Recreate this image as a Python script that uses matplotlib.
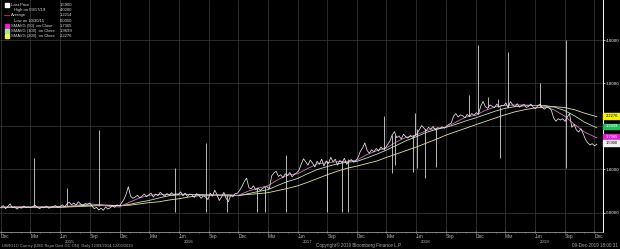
import matplotlib
matplotlib.use("Agg")
import matplotlib.pyplot as plt
import matplotlib.dates as mdates
import matplotlib.transforms as mtransforms
from matplotlib.patches import Rectangle
import pandas as pd

plt.rcParams["font.family"] = ["Liberation Sans", "DejaVu Sans"]

# weekly closes, one row per quarter (13 weeks from 2014-12-01)
price_vals = [
    0.12, 0.16, 0.09, 0.14, 0.20, 0.11, 0.13, 0.08, 0.12, 0.10, 0.15, 0.11, 0.13,
    0.11, 0.14, 0.17, 0.12, 0.09, 0.13, 0.11, 0.15, 0.10, 0.12, 0.14, 0.16, 0.12,
    0.14, 0.18, 0.13, 0.20, 0.24, 0.18, 0.22, 0.17, 0.25, 0.20, 0.16, 0.21, 0.19,
    0.22, 0.15, 0.09, 0.12, 0.06, 0.10, 0.05, 0.13, 0.08, 0.11, 0.16, 0.12, 0.18,
    0.15, 0.22, 0.30, 0.42, 0.60, 0.38, 0.33, 0.36, 0.40, 0.34, 0.38, 0.43, 0.37,
    0.41, 0.45, 0.36, 0.43, 0.39, 0.47, 0.42, 0.38, 0.44, 0.40, 0.46, 0.41, 0.43,
    0.42, 0.48, 0.39, 0.45, 0.37, 0.43, 0.41, 0.35, 0.44, 0.40, 0.33, 0.39, 0.36,
    0.30, 0.45, 0.38, 0.52, 0.41, 0.28, 0.36, 0.47, 0.33, 0.25, 0.40, 0.37, 0.44,
    0.45, 0.52, 0.61, 0.72, 0.80, 0.58, 0.55, 0.62, 0.53, 0.57, 0.51, 0.56, 0.59,
    0.60, 0.55, 0.85, 0.92, 0.96, 0.84, 0.88, 0.81, 0.90, 0.86, 0.93, 0.83, 0.89,
    0.92, 0.98, 1.12, 1.25, 1.18, 1.10, 1.22, 1.15, 1.06, 1.19, 1.12, 1.24, 1.08,
    1.20, 1.14, 1.28, 1.18, 1.24, 1.10, 1.21, 1.16, 1.26, 1.12, 1.19, 1.23, 1.17,
    1.20, 1.28, 1.42, 1.50, 1.62, 1.44, 1.38, 1.46, 1.41, 1.49, 1.43, 1.52, 1.47,
    1.50, 1.58, 1.66, 1.80, 1.88, 1.74, 1.78, 1.71, 1.82, 1.76, 1.73, 1.79, 1.75,
    1.78, 1.84, 1.93, 2.02, 1.96, 1.90, 1.98, 1.94, 2.00, 1.92, 1.97, 1.95, 1.99,
    1.96, 2.01, 2.05, 2.08, 2.24, 2.30, 2.22, 2.27, 2.25, 2.20, 2.28, 2.23, 2.30,
    2.26, 2.32, 2.29, 2.48, 2.58, 2.46, 2.42, 2.50, 2.47, 2.44, 2.52, 2.45, 2.49,
    2.48, 2.55, 2.43, 2.58, 2.50, 2.46, 2.53, 2.45, 2.49, 2.51, 2.44, 2.47, 2.52,
    2.45, 2.41, 2.48, 2.52, 2.44, 2.40, 2.46, 2.43, 2.38, 2.20, 2.12, 2.18, 2.15,
    2.18, 2.12, 2.22, 2.30, 1.98, 2.05, 1.92, 1.87, 1.95, 1.83, 1.70, 1.62, 1.57,
    1.60, 1.55, 1.59,
]
price_dates = pd.date_range("2014-12-01", periods=len(price_vals), freq="7D")

# one-day spikes (quarter ends etc.): date, low end, high end
needle_dates = [
    "2015-03-12", "2015-06-22", "2015-09-29", "2016-05-20", "2016-08-22",
    "2016-10-27", "2017-01-27", "2017-02-21", "2017-04-27", "2017-08-31",
    "2017-10-16", "2017-11-03", "2018-02-22", "2018-03-19", "2018-03-28",
    "2018-05-23", "2018-05-29", "2018-06-04", "2018-06-28", "2018-08-01",
    "2018-11-10", "2018-12-08", "2019-01-07", "2019-02-07", "2019-02-14",
    "2019-03-10", "2019-06-17", "2019-09-05",
]
needle_lo = [
    0.13, 0.15, 0.15, 0.02, 0.02, 0.02, 0.02, 0.02, 0.02, 0.02,
    0.02, 0.02, 1.45, 0.92, 1.10, 0.95, 1.80, 1.03, 0.80, 1.06,
    2.25, 2.30, 2.45, 2.45, 1.27, 2.45, 2.45, 1.03,
]
needle_hi = [
    1.27, 0.57, 1.92, 1.03, 1.62, 0.40, 0.58, 0.60, 1.34, 1.20,
    1.20, 1.25, 2.24, 1.80, 1.80, 1.80, 2.31, 1.95, 1.95, 1.97,
    2.73, 3.90, 2.68, 2.65, 2.45, 3.73, 3.00, 4.02,
]

# moving averages, month starts Dec 2014 .. Nov 2019 plus last day
sma_dates = list(pd.date_range("2014-12-01", periods=60, freq="MS")) + [pd.Timestamp("2019-12-09")]
sma50 = [
    0.12,
    0.13, 0.13, 0.12, 0.13, 0.13, 0.14, 0.15, 0.18, 0.20, 0.18, 0.14, 0.13,
    0.24, 0.34, 0.40, 0.42, 0.42, 0.43, 0.42, 0.40, 0.39, 0.40, 0.38, 0.40,
    0.50, 0.57, 0.62, 0.76, 0.87, 0.90, 1.02, 1.13, 1.16, 1.18, 1.19, 1.22,
    1.35, 1.44, 1.50, 1.64, 1.75, 1.80, 1.90, 1.96, 1.98, 2.10, 2.22, 2.26,
    2.38, 2.46, 2.49, 2.50, 2.50, 2.49, 2.47, 2.38, 2.24, 2.05, 1.87,
    1.7365,
]
sma100 = [
    0.12,
    0.13, 0.13, 0.13, 0.13, 0.13, 0.13, 0.14, 0.16, 0.17, 0.18, 0.17, 0.16,
    0.19, 0.24, 0.28, 0.34, 0.39, 0.41, 0.42, 0.42, 0.41, 0.40, 0.40, 0.39,
    0.44, 0.49, 0.53, 0.63, 0.72, 0.79, 0.90, 1.00, 1.07, 1.13, 1.17, 1.19,
    1.27, 1.36, 1.45, 1.56, 1.67, 1.76, 1.86, 1.93, 1.98, 2.05, 2.13, 2.20,
    2.28, 2.36, 2.42, 2.46, 2.48, 2.49, 2.49, 2.45, 2.37, 2.25, 2.10,
    1.9699,
]
sma200 = [
    0.11,
    0.12, 0.12, 0.12, 0.12, 0.12, 0.12, 0.13, 0.14, 0.15, 0.16, 0.16, 0.16,
    0.17, 0.20, 0.23, 0.25, 0.29, 0.32, 0.36, 0.39, 0.40, 0.41, 0.41, 0.40,
    0.42, 0.44, 0.46, 0.51, 0.56, 0.62, 0.70, 0.79, 0.88, 0.96, 1.03, 1.08,
    1.14, 1.20, 1.28, 1.36, 1.44, 1.52, 1.61, 1.70, 1.80, 1.88, 1.96, 2.04,
    2.12, 2.20, 2.27, 2.34, 2.39, 2.43, 2.45, 2.46, 2.44, 2.39, 2.31,
    2.2276,
]

legend_rows = [
    ("Last Price", "1.5900"),
    ("High on 09/17/19", "4.0200"),
    ("Average", "1.2214"),
    ("Low on 10/30/15", "0.0050"),
    ("SMAVG (50)  on Close", "1.7365"),
    ("SMAVG (100)  on Close", "1.9699"),
    ("SMAVG (200)  on Close", "2.2276"),
]
years = [2015, 2016, 2017, 2018, 2019]

W, H = 620, 249
fig = plt.figure(figsize=(W / 100, H / 100), dpi=100, facecolor="black")
ax = fig.add_axes([0, 17 / H, 603 / W, 232 / H])
ax.set_facecolor("black")

fs = 3.4
grid_c = "#3c3c3c"

ax.set_xlim(pd.Timestamp("2014-11-28"), pd.Timestamp("2019-12-28"))
ax.set_ylim(-0.453, 4.94)

ax.set_yticks([0, 1, 2, 3, 4])
ax.set_yticklabels([f"{v:.4f}" for v in [0, 1, 2, 3, 4]])
ax.yaxis.tick_right()
ax.tick_params(axis="y", colors="white", labelsize=fs, length=1.2, width=0.5, pad=0.8)
for lbl in ax.get_yticklabels():
    lbl.set_fontfamily("DejaVu Sans")
    lbl.set_fontsize(2.9)

ax.xaxis.set_major_locator(mdates.MonthLocator(bymonth=[3, 6, 9, 12]))
ax.xaxis.set_major_formatter(mdates.DateFormatter("%b"))
ax.xaxis.set_minor_locator(mdates.MonthLocator())
ax.tick_params(axis="x", which="major", colors="#bbbbbb", labelsize=fs,
               length=2, width=0.5, pad=0.3, direction="inout")
ax.tick_params(axis="x", which="minor", colors="#888888", length=1, width=0.4)
for lbl in ax.get_xticklabels():
    lbl.set_horizontalalignment("left")

ax.grid(True, which="major", color=grid_c, lw=0.5)

for s in ["left", "top"]:
    ax.spines[s].set_visible(False)
ax.spines["bottom"].set_color("#999999")
ax.spines["bottom"].set_linewidth(0.6)
ax.spines["right"].set_color("white")
ax.spines["right"].set_linewidth(0.7)

# series
ax.plot(sma_dates, sma200, color="#e6e2a0", lw=0.6, zorder=2)
ax.plot(sma_dates, sma100, color="#bfe3b0", lw=0.6, zorder=2)
ax.plot(sma_dates, sma50, color="#d070c0", lw=0.6, zorder=2)
ax.vlines(pd.to_datetime(needle_dates), needle_lo, needle_hi, color="#d8d8d8", lw=0.6, zorder=3)
ax.plot(price_dates, price_vals, color="#e8e8e8", lw=0.55, zorder=4)

# year labels under the months
xtrans = mtransforms.blended_transform_factory(ax.transData, ax.transAxes)
for yr in years:
    ax.text(pd.Timestamp(f"{yr}-07-01"), -9.5 / 232, str(yr), transform=xtrans,
            ha="center", va="center", color="#bbbbbb", fontsize=3.2)

# legend block (top-left)
lfs = 3.0
sw_colors = ["white", None, None, None, "#e020d0", "#a8e890", "#f0f060"]
for i, (name, val) in enumerate(legend_rows):
    yy = 1 - (5 + i * 5.2) / H
    indent = 14 if name.startswith(("High", "Low")) else 11
    fig.text(indent / W, yy, name, color="#dddddd", fontsize=lfs, va="center", ha="left")
    fig.text(72 / W, yy, val, color="#dddddd", fontsize=lfs, va="center", ha="right")
    if sw_colors[i]:
        fig.patches.append(Rectangle((5 / W, yy - 2 / H), 4 / W, 4 / H,
                                     transform=fig.transFigure, color=sw_colors[i]))
    if name == "Average":
        fig.lines.append(plt.Line2D([4 / W, 9 / W], [yy, yy], transform=fig.transFigure,
                                    color="#c04040", lw=0.6))

# last value tags on the right axis
ytrans = mtransforms.blended_transform_factory(ax.transAxes, ax.transData)
tag_vals = [2.2276, 1.9699, 1.7365, 1.5900]
tag_cols = ["#f2f200", "#20c060", "#e020d0", "#f0f0f0"]
tag_txt = ["black", "white", "white", "black"]
tag_shift = [0.01, 0.03, 0.03, 0.02]
for v, c, tc, sh in zip(tag_vals, tag_cols, tag_txt, tag_shift):
    ax.add_patch(Rectangle((1.0, v + sh - 0.065), 17 / 603, 0.13,
                           transform=ytrans, color=c, clip_on=False, zorder=6))
    ax.text(1.0 + 8.5 / 603, v + sh, f"{v:.4f}", transform=ytrans, color=tc,
            fontsize=2.9, ha="center", va="center", clip_on=False, zorder=7)

# footer
fy = 3.5 / H
fig.text(2 / W, fy, "USRG1O Curncy (USD Repo Govt GC ON)  Daily 12/09/2014-12/09/2019",
         color="#aaaaaa", fontsize=2.9, va="center", ha="left")
fig.text(316 / W, fy, "Copyright\u00a9 2019 Bloomberg Finance L.P.",
         color="#aaaaaa", fontsize=3.3, va="center", ha="left")
fig.text(618 / W, fy, "09-Dec-2019 18:00:31",
         color="#aaaaaa", fontsize=3.3, va="center", ha="right")

fig.savefig("out.png", dpi=100, facecolor="black")
